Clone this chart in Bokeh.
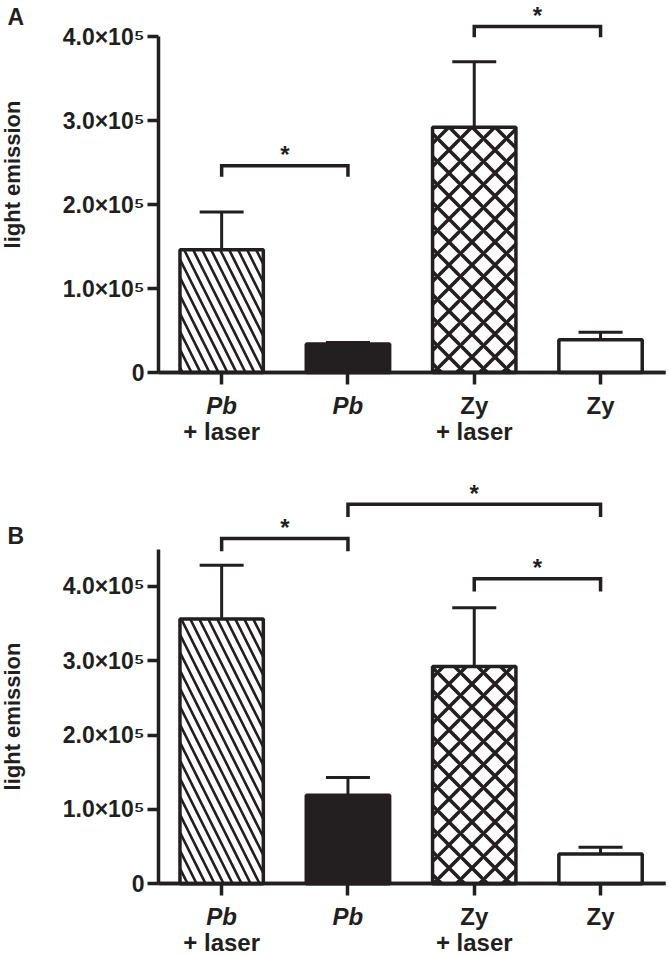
from bokeh.plotting import figure
from bokeh.models import (ColumnDataSource, Whisker, TeeHead, LinearAxis,
                          FixedTicker, Range1d, Label)
from bokeh.layouts import column
from bokeh.embed import file_html
from bokeh.resources import INLINE
from bokeh.core.properties import value

# ---------------- data ----------------
categories = ["Pb + laser", "Pb", "Zy + laser", "Zy"]
label_line1 = ["Pb", "Pb", "Zy", "Zy"]
label_line2 = ["+ laser", "", "+ laser", ""]
line1_italic = [True, True, False, False]

a_values = [1.46e5, 0.34e5, 2.92e5, 0.39e5]
a_errors = [0.45e5, 0.016e5, 0.78e5, 0.09e5]
b_values = [3.56e5, 1.19e5, 2.92e5, 0.40e5]
b_errors = [0.72e5, 0.24e5, 0.79e5, 0.09e5]

y_ticks = [0, 100000, 200000, 300000, 400000]
y_tick_labels = ["0", "1.0×10⁵", "2.0×10⁵", "3.0×10⁵", "4.0×10⁵"]
y_title = "light emission"

# significance brackets: (from index, to index, level)
a_brackets = [(0, 1, 2.46e5), (2, 3, 4.12e5)]
b_brackets = [(0, 1, 4.64e5), (1, 3, 5.10e5), (2, 3, 4.10e5)]

# ---------------- style ----------------
INK = "#231f20"
FONT = "Liberation Sans"
bar_fill = ["white", INK, "white", "white"]
bar_hatch = ["\\", " ", "x", " "]
bar_hatch_scale = [18, 18, 23, 18]
bar_hatch_weight = [2.6, 2.6, 3.6, 2.6]

PX_PER_CAT = 126.3      # horizontal layout scale
AXIS_X = 0.5            # where the value axis stands (left of first bar)
FIG_W = 669


def make_panel(letter, values, errors, brackets, height, px_per_unit,
               zero_px, axis_top, bracket_drop, letter_top, title_span):
    pos = list(range(1, len(categories) + 1))
    x_start = AXIS_X - 158 / PX_PER_CAT
    x_end = x_start + FIG_W / PX_PER_CAT
    y_end = zero_px / px_per_unit * 1e5
    y_start = -(height - zero_px) / px_per_unit * 1e5
    p = figure(width=FIG_W, height=height,
               x_range=Range1d(x_start, x_end),
               y_range=Range1d(y_start, y_end),
               output_backend="svg", toolbar_location=None,
               x_axis_location=None, y_axis_location=None,
               min_border_left=0, min_border_right=0,
               min_border_top=0, min_border_bottom=0)
    p.grid.visible = False
    p.outline_line_color = None
    p.background_fill_color = "white"
    p.border_fill_color = "white"

    src = ColumnDataSource(dict(
        x=pos, top=values,
        upper=[v + e for v, e in zip(values, errors)],
        fill=bar_fill, hatch=bar_hatch,
        hscale=bar_hatch_scale, hweight=bar_hatch_weight))

    whisk = Whisker(base="x", upper="upper", lower="top", source=src,
                    dimension="height", line_width=3, line_color=INK,
                    upper_head=TeeHead(size=44, line_width=3, line_color=INK),
                    lower_head=None)
    p.add_layout(whisk)

    p.vbar(x="x", top="top", bottom=0, width=0.66, source=src,
           fill_color="fill", line_color=INK, line_width=3.5,
           hatch_pattern="hatch", hatch_color=INK,
           hatch_scale="hscale", hatch_weight="hweight")

    # brackets and stars
    xs, ys, sx, sy = [], [], [], []
    for i, j, lvl in brackets:
        xs.append([pos[i], pos[i], pos[j], pos[j]])
        ys.append([lvl - bracket_drop, lvl, lvl, lvl - bracket_drop])
        sx.append((pos[i] + pos[j]) / 2)
        sy.append(lvl)
    p.multi_line(xs=xs, ys=ys, line_color=INK, line_width=3.5,
                 line_join="miter")
    p.text(x=sx, y=sy, text=["*"] * len(sx), text_font=value(FONT),
           text_font_style="bold", text_font_size="24px", text_color=INK,
           text_align="center", text_baseline="middle", y_offset=-11)

    # y axis, standing at AXIS_X
    ya = LinearAxis(fixed_location=AXIS_X, ticker=FixedTicker(ticks=y_ticks),
                    major_label_overrides=dict(zip(y_ticks, y_tick_labels)),
                    bounds=(0, axis_top))
    ya.major_label_text_font = FONT
    ya.major_label_text_font_style = "bold"
    ya.major_label_text_font_size = "23px"
    ya.major_label_text_color = INK
    ya.major_label_standoff = 3
    ya.axis_line_width = 3.5
    ya.axis_line_color = INK
    ya.major_tick_line_width = 3.5
    ya.major_tick_line_color = INK
    ya.major_tick_out = 11
    ya.major_tick_in = 0
    ya.minor_tick_line_color = None
    p.add_layout(ya, "left")

    # axis title carried by a bare axis so it can be centred as in the figure
    yt = LinearAxis(fixed_location=AXIS_X, ticker=FixedTicker(ticks=[]),
                    bounds=title_span, axis_label=y_title)
    yt.axis_line_color = None
    yt.major_tick_line_color = None
    yt.minor_tick_line_color = None
    yt.major_tick_out = 0
    yt.major_tick_in = 0
    yt.axis_label_text_font = FONT
    yt.axis_label_text_font_style = "bold"
    yt.axis_label_text_font_size = "22px"
    yt.axis_label_text_color = INK
    yt.axis_label_standoff = 134
    p.add_layout(yt, "left")

    # x axes at y = 0: italic names, upright names, second line
    x_bounds = (AXIS_X, AXIS_X + 507 / PX_PER_CAT)
    groups = [
        ([pos[k] for k in range(len(pos)) if line1_italic[k]],
         [label_line1[k] for k in range(len(pos)) if line1_italic[k]],
         "bold italic", True, 7),
        ([pos[k] for k in range(len(pos)) if not line1_italic[k]],
         [label_line1[k] for k in range(len(pos)) if not line1_italic[k]],
         "bold", True, 7),
        ([pos[k] for k in range(len(pos)) if label_line2[k]],
         [label_line2[k] for k in range(len(pos)) if label_line2[k]],
         "bold", False, 45),
    ]
    for ticks, labels, style, draw_ticks, standoff in groups:
        ax = LinearAxis(fixed_location=0, ticker=FixedTicker(ticks=ticks),
                        major_label_overrides=dict(zip(ticks, labels)),
                        bounds=x_bounds)
        ax.major_label_text_font = FONT
        ax.major_label_text_font_style = style
        ax.major_label_text_font_size = "24px"
        ax.major_label_text_color = INK
        ax.major_label_standoff = standoff
        ax.minor_tick_line_color = None
        if draw_ticks:
            ax.axis_line_width = 3.5
            ax.axis_line_color = INK
            ax.major_tick_line_width = 3.5
            ax.major_tick_line_color = INK
            ax.major_tick_out = 12
            ax.major_tick_in = 0
        else:
            ax.axis_line_color = None
            ax.major_tick_line_color = None
            ax.major_tick_out = 0
            ax.major_tick_in = 0
        p.add_layout(ax, "below")

    p.add_layout(Label(x=7, y=height - letter_top, x_units="screen",
                       y_units="screen", text=letter, text_font=FONT,
                       text_font_style="bold", text_font_size="23px",
                       text_color=INK, text_baseline="top",
                       text_align="left"))
    return p


pa = make_panel("A", a_values, a_errors, a_brackets, 465, 84.0, 372,
                400000, 0.13e5, 3, (0.72e5, 4.0e5))
pb = make_panel("B", b_values, b_errors, b_brackets, 490, 74.4, 418.3,
                450000, 0.17e5, 57, (0, 4.5e5))

layout = column(pa, pb, spacing=0)
open("out.html", "w").write(file_html(layout, INLINE))
